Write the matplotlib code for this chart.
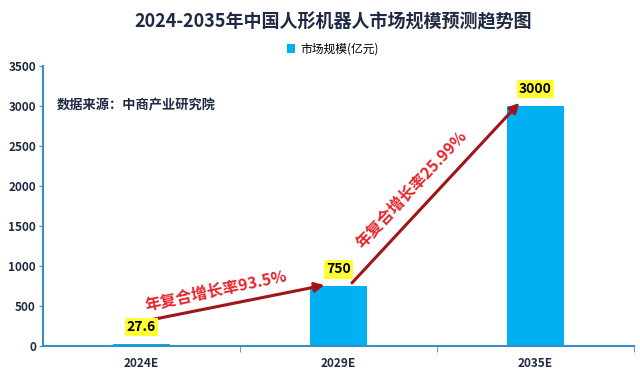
import matplotlib
matplotlib.use("Agg")
import matplotlib.pyplot as plt

plt.rcParams['font.family'] = ['Noto Sans CJK SC', 'DejaVu Sans']

years = ["2024E", "2029E", "2035E"]
sizes = [27.6, 750, 3000]
size_labels = ["27.6", "750", "3000"]
cagr_labels = ["年复合增长率93.5%", "年复合增长率25.99%"]

navy = "#1F2A44"
axis_blue = "#3C8DC4"
bar_blue = "#00B0F0"
arrow_red = "#A0141A"
text_red = "#E8242B"

fig = plt.figure(figsize=(6.4, 3.73), dpi=100)
ax = fig.add_axes([0.067, 0.072, 0.923, 0.751])

x = list(range(len(years)))
ax.bar(x, sizes, width=0.29, color=bar_blue, label="市场规模(亿元)", zorder=2)

ax.set_xlim(-0.5, 2.5)
ax.set_ylim(0, 3500)
ax.set_yticks(range(0, 3501, 500))
ax.set_xticks(x)
ax.set_xticklabels(years)
ax.set_xticks([0.5, 1.5, 2.5], minor=True)
ax.tick_params(axis='x', which='major', length=0, pad=8)
ax.tick_params(axis='x', which='minor', length=4, color=axis_blue, direction='out')
ax.tick_params(axis='y', length=3, color=axis_blue, pad=2)
for lab in ax.get_xticklabels() + ax.get_yticklabels():
    lab.set_fontsize(8.5)
    lab.set_fontweight('bold')
    lab.set_color(navy)

for s in ['top', 'right']:
    ax.spines[s].set_visible(False)
for s in ['left', 'bottom']:
    ax.spines[s].set_color(axis_blue)
    ax.spines[s].set_linewidth(1.5)

# value labels on yellow boxes
for xi, v, t in zip(x, sizes, size_labels):
    ax.annotate(t, (xi, v), xytext=(0, 12), textcoords='offset points',
                ha='center', va='center', fontsize=10, fontweight='bold', color='black',
                bbox=dict(boxstyle='square,pad=0.15', fc='#FFFF33', ec='none'), zorder=5)

# growth arrows
arrows = [((-0.01, 300), (0.93, 762)), ((1.07, 790), (1.92, 3040))]
for (p0, p1) in arrows:
    ax.annotate("", xy=p1, xytext=p0,
                arrowprops=dict(arrowstyle='-|>', color=arrow_red, lw=2.2,
                                mutation_scale=14, shrinkA=0, shrinkB=0), zorder=4)

ax.text(0.38, 690, cagr_labels[0], rotation=12, ha='center', va='center',
        fontsize=11.5, fontweight='bold', color=text_red, zorder=6)
ax.text(1.37, 1960, cagr_labels[1], rotation=47, ha='center', va='center',
        fontsize=11.5, fontweight='bold', color=text_red, zorder=6)

ax.text(-0.43, 3010, "数据来源：中商产业研究院", ha='left', va='center',
        fontsize=9.5, fontweight='bold', color=navy)

fig.text(0.52, 0.94, "2024-2035年中国人形机器人市场规模预测趋势图", ha='center', va='center',
         fontsize=13, fontweight='bold', color=navy)
fig.legend(loc='center', bbox_to_anchor=(0.52, 0.868), frameon=False, fontsize=8.5,
           handlelength=0.7, handleheight=0.7, handletextpad=0.4)

fig.savefig("out.png", dpi=100)
